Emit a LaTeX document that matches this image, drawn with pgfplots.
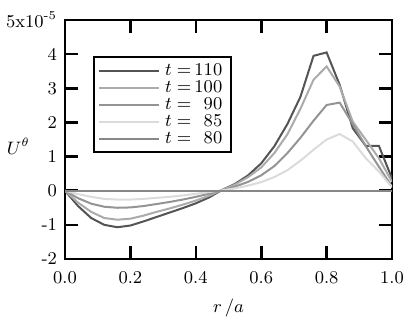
\documentclass[border=0pt]{standalone}
\usepackage{pgfplots}
\pgfplotsset{compat=1.18}
\pgfplotstableread{
r     a110  a100  a90   a85   a80
0.00  0.00  0.00  0.00  0.00  0.00
0.04 -0.45 -0.35 -0.22 -0.10  0.00
0.08 -0.80 -0.62 -0.38 -0.18  0.00
0.12 -1.00 -0.80 -0.47 -0.24  0.00
0.16 -1.07 -0.85 -0.50 -0.26  0.00
0.20 -1.02 -0.82 -0.49 -0.26  0.00
0.24 -0.90 -0.73 -0.45 -0.24  0.00
0.28 -0.77 -0.62 -0.39 -0.21  0.00
0.32 -0.64 -0.52 -0.33 -0.18  0.00
0.36 -0.51 -0.41 -0.26 -0.14  0.00
0.40 -0.37 -0.29 -0.18 -0.09  0.00
0.44 -0.20 -0.15 -0.09 -0.04  0.00
0.48  0.02  0.02  0.01  0.01  0.00
0.52  0.20  0.18  0.12  0.07  0.00
0.56  0.45  0.40  0.26  0.15  0.00
0.60  0.80  0.68  0.45  0.25  0.00
0.64  1.30  1.10  0.72  0.40  0.00
0.68  1.95  1.65  1.10  0.60  0.00
0.72  2.75  2.40  1.55  0.88  0.00
0.76  3.95  3.25  2.05  1.20  0.00
0.80  4.05  3.64  2.51  1.50  0.00
0.84  3.10  3.05  2.58  1.66  0.00
0.88  1.83  2.02  1.95  1.44  0.00
0.92  1.31  1.49  1.30  0.95  0.00
0.96  1.31  0.95  0.70  0.56  0.00
1.00  0.36  0.26  0.12  0.10  0.00
}\data
\definecolor{c110}{gray}{0.33}
\definecolor{c100}{gray}{0.67}
\definecolor{c90}{gray}{0.58}
\definecolor{c85}{gray}{0.86}
\definecolor{c80}{gray}{0.53}
\begin{document}
\begin{tikzpicture}
\begin{axis}[
  width=163.5pt, height=119.5pt, scale only axis,
  xmin=0, xmax=1, ymin=-2, ymax=5,
  font=\fontsize{9}{11}\selectfont,
  axis line style={line width=1.3pt},
  every tick/.style={line width=1.3pt, black},
  major tick length=6.5pt,
  tick align=inside,
  xtick={0,0.2,0.4,0.6,0.8,1.0},
  xticklabels={0.0,0.2,0.4,0.6,0.8,1.0},
  xticklabel style={yshift=-2.5pt},
  ytick={-2,-1,0,1,2,3,4,5},
  yticklabels={-2,-1,0,1,2,3,4,{5x10\textsuperscript{-5}}},
  yticklabel style={xshift=-0.5pt},
  xlabel={$r\,/a$},
  ylabel={$U^\theta$},
  every axis y label/.style={at={(rel axis cs:0,0.47)}, anchor=east, xshift=-14pt},
  xlabel style={yshift=-1pt},
  legend style={at={(0.0856,0.849)}, anchor=north west, draw=black, line width=1.2pt,
    font=\fontsize{9}{9}\selectfont, row sep=0pt, inner xsep=2pt, inner ysep=2.5pt,
    nodes={inner xsep=2.5pt, inner ysep=0.5pt, text height=6.3pt, text depth=1.2pt},
    cells={anchor=west}},
  legend image code/.code={\draw[#1, line width=1pt] (0pt,0pt) -- (30pt,0pt);},
  legend cell align=left,
]
\addplot[c110, line width=1pt] table[x=r, y=a110] {\data};
\addlegendentry{$t$\hspace{2.5pt}=\hspace{2pt}\makebox[1.5em][r]{110}}
\addplot[c100, line width=1pt] table[x=r, y=a100] {\data};
\addlegendentry{$t$\hspace{2.5pt}=\hspace{2pt}\makebox[1.5em][r]{100}}
\addplot[c90, line width=1pt] table[x=r, y=a90] {\data};
\addlegendentry{$t$\hspace{2.5pt}=\hspace{2pt}\makebox[1.5em][r]{90}}
\addplot[c85, line width=1pt] table[x=r, y=a85] {\data};
\addlegendentry{$t$\hspace{2.5pt}=\hspace{2pt}\makebox[1.5em][r]{85}}
\addplot[c80, line width=1pt] table[x=r, y=a80] {\data};
\addlegendentry{$t$\hspace{2.5pt}=\hspace{2pt}\makebox[1.5em][r]{80}}
\end{axis}
\pgfresetboundingbox
\useasboundingbox ([shift={(-32.5pt,-30pt)}]current axis.south west) rectangle ([shift={(11.5pt,10pt)}]current axis.north east);
\end{tikzpicture}
\end{document}
